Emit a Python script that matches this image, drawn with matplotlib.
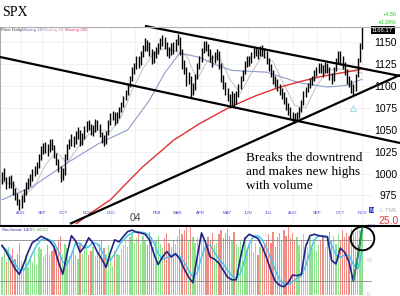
import matplotlib
matplotlib.use("Agg")
import matplotlib.pyplot as plt
from matplotlib.lines import Line2D

plt.rcParams['font.family'] = ['Liberation Sans', 'DejaVu Sans']

W, H = 400, 296

# SPX, 2-day bars, mid July 2003 .. 5 Nov 2004
close = [995, 1000, 985, 992, 990, 980, 975, 968, 962, 970,
         978, 985, 990, 994, 1000, 1004, 1008, 1018, 1025, 1030,
         1030, 1026, 1035, 1032, 1022, 1015, 1008, 995, 1000, 1018,
         1030, 1036, 1040, 1035, 1045, 1048, 1035, 1042, 1050, 1056,
         1055, 1048, 1050, 1058, 1055, 1046, 1040, 1036, 1045, 1058,
         1065, 1068, 1060, 1066, 1072, 1078, 1085, 1092, 1100, 1108,
         1118, 1122, 1130, 1126, 1135, 1142, 1150, 1146, 1140, 1130,
         1135, 1140, 1145, 1150, 1152, 1148, 1140, 1138, 1145, 1142,
         1150, 1155, 1140, 1125, 1120, 1105, 1110, 1092, 1098, 1110,
         1122, 1130, 1140, 1148, 1145, 1140, 1132, 1128, 1135, 1138,
         1125, 1110, 1102, 1095, 1088, 1080, 1090, 1082, 1090, 1098,
         1108, 1115, 1125, 1130, 1128, 1135, 1140, 1140, 1136, 1142,
         1140, 1138, 1130, 1122, 1115, 1108, 1104, 1100, 1095, 1090,
         1085, 1078, 1072, 1068, 1064, 1063, 1066, 1072, 1080, 1090,
         1095, 1100, 1105, 1108, 1115, 1118, 1122, 1120, 1116, 1124,
         1120, 1112, 1108, 1118, 1128, 1135, 1132, 1125, 1118, 1108,
         1104, 1098, 1094, 1110, 1128, 1145, 1166.17]
high = [1002, 1006, 996, 997, 998, 991, 984, 978, 971, 975,
        982, 990, 995, 999, 1005, 1009, 1013, 1022, 1031, 1035,
        1036, 1034, 1040, 1039, 1033, 1024, 1017, 1009, 1006, 1022,
        1034, 1040, 1045, 1043, 1049, 1053, 1050, 1046, 1054, 1060,
        1061, 1057, 1055, 1062, 1061, 1057, 1048, 1044, 1049, 1061,
        1069, 1072, 1070, 1070, 1076, 1082, 1089, 1096, 1104, 1112,
        1122, 1127, 1134, 1135, 1140, 1147, 1155, 1153, 1150, 1142,
        1140, 1145, 1149, 1155, 1158, 1156, 1151, 1145, 1149, 1150,
        1154, 1160, 1156, 1142, 1130, 1122, 1116, 1112, 1104, 1114,
        1126, 1134, 1144, 1152, 1152, 1148, 1143, 1136, 1139, 1143,
        1140, 1127, 1113, 1105, 1098, 1091, 1094, 1092, 1094, 1102,
        1112, 1119, 1129, 1134, 1135, 1139, 1144, 1145, 1143, 1146,
        1147, 1144, 1140, 1132, 1125, 1118, 1112, 1108, 1103, 1098,
        1093, 1088, 1081, 1076, 1071, 1069, 1071, 1076, 1084, 1094,
        1099, 1104, 1109, 1112, 1119, 1122, 1126, 1127, 1124, 1128,
        1127, 1122, 1115, 1122, 1132, 1140, 1140, 1135, 1128, 1120,
        1112, 1107, 1102, 1114, 1132, 1149, 1169]
low = [988, 992, 982, 984, 983, 976, 970, 964, 958, 961,
       968, 976, 982, 986, 991, 997, 1000, 1006, 1016, 1022,
       1024, 1020, 1025, 1027, 1018, 1010, 1002, 990, 993, 998,
       1016, 1028, 1032, 1030, 1034, 1040, 1031, 1033, 1040, 1048,
       1050, 1044, 1043, 1048, 1050, 1042, 1035, 1032, 1034, 1044,
       1056, 1061, 1056, 1058, 1064, 1070, 1076, 1084, 1090, 1099,
       1106, 1114, 1120, 1121, 1124, 1133, 1140, 1140, 1135, 1125,
       1127, 1132, 1137, 1142, 1146, 1143, 1135, 1132, 1136, 1137,
       1140, 1147, 1136, 1120, 1114, 1100, 1102, 1088, 1090, 1096,
       1108, 1120, 1128, 1138, 1140, 1135, 1128, 1122, 1126, 1130,
       1120, 1105, 1097, 1090, 1083, 1075, 1078, 1077, 1080, 1088,
       1097, 1106, 1114, 1122, 1123, 1126, 1132, 1134, 1131, 1134,
       1135, 1132, 1125, 1117, 1110, 1103, 1099, 1095, 1090, 1085,
       1080, 1073, 1067, 1062, 1059, 1058, 1060, 1064, 1070, 1079,
       1088, 1093, 1098, 1101, 1106, 1112, 1115, 1115, 1111, 1115,
       1115, 1107, 1102, 1106, 1117, 1127, 1127, 1120, 1113, 1103,
       1099, 1092, 1090, 1094, 1110, 1128, 1143]
volume = [55, 62, 48, 70, 58, 66, 52, 60, 75, 50,
          45, 58, 40, 52, 48, 62, 44, 70, 66, 55,
          60, 72, 58, 64, 70, 66, 78, 85, 60, 74,
          68, 56, 62, 70, 58, 52, 76, 60, 66, 72,
          58, 64, 70, 56, 62, 74, 80, 68, 60, 72,
          56, 42, 64, 60, 58, 66, 72, 78, 70, 84,
          88, 76, 82, 90, 74, 86, 80, 72, 92, 84,
          70, 78, 86, 74, 68, 82, 90, 76, 70, 80,
          74, 86, 96, 88, 94, 98, 80, 100, 84, 76,
          82, 74, 88, 80, 70, 84, 78, 90, 72, 76,
          88, 94, 82, 90, 96, 86, 78, 92, 74, 70,
          78, 72, 84, 66, 74, 80, 62, 76, 58, 70,
          68, 74, 80, 88, 76, 92, 70, 84, 90, 78,
          94, 86, 98, 82, 90, 78, 84, 72, 80, 88,
          76, 70, 82, 68, 78, 64, 72, 80, 86, 70,
          84, 92, 78, 86, 74, 88, 80, 94, 84, 90,
          86, 96, 88, 92, 98, 94, 100]

# moving averages, read at a few bars
ma_fast_x = [0, 5, 10, 15, 20, 25, 30, 35, 40, 45, 50, 55, 60, 65, 70, 75, 80,
             85, 90, 95, 100, 105, 110, 115, 120, 125, 130, 135, 140, 145, 150,
             155, 160, 166]
ma_fast = [990, 988, 975, 985, 1010, 1025, 1012, 1030, 1045, 1050, 1048, 1065,
           1095, 1120, 1138, 1143, 1140, 1135, 1108, 1130, 1135, 1108, 1092,
           1115, 1135, 1128, 1102, 1078, 1075, 1100, 1118, 1120, 1118, 1115]
ma_50_x = [0, 14, 30, 45, 58, 68, 75, 82, 91, 98, 106, 122, 137, 150, 159, 166]
ma_50 = [970, 985, 1012, 1035, 1050, 1084, 1115, 1138, 1133, 1125, 1118, 1116,
         1104, 1099, 1101, 1108]
ma_200_x = [27, 34, 41, 50, 59, 65, 73, 79, 91, 105, 117, 127, 137, 147, 156, 165]
ma_200 = [930, 942, 955, 970, 993, 1008, 1025, 1038, 1057, 1076, 1089, 1098,
          1105, 1111, 1115, 1119]

# stochastic 14/3, every second bar
stoch_k = [72, 62, 50, 38, 30, 45, 62, 76, 80, 85,
           82, 78, 70, 48, 30, 60, 86, 78, 62, 70,
           83, 75, 62, 52, 40, 62, 80, 77, 85, 92,
           94, 91, 90, 88, 80, 60, 44, 55, 63, 55,
           60, 52, 38, 26, 18, 55, 90, 75, 55, 52,
           46, 36, 26, 22, 22, 55, 82, 88, 85, 82,
           70, 54, 35, 20, 14, 12, 18, 29, 28, 30,
           70, 86, 88, 86, 85, 84, 50, 45, 68, 62,
           48, 20, 55, 95]
stoch_d = [70, 66, 56, 45, 36, 36, 45, 60, 72, 80,
           82, 80, 76, 64, 48, 44, 58, 76, 75, 68,
           70, 76, 74, 64, 52, 50, 60, 72, 80, 86,
           90, 92, 91, 90, 86, 76, 60, 52, 54, 58,
           58, 56, 48, 36, 26, 32, 55, 72, 72, 62,
           52, 45, 36, 28, 24, 32, 52, 74, 85, 86,
           80, 68, 52, 36, 22, 16, 15, 19, 24, 28,
           42, 62, 80, 86, 86, 85, 72, 58, 54, 58,
           58, 44, 38, 62]

months = ['AUG', 'SEP', 'OCT', 'NOV', 'DEC', '04', 'FEB', 'MAR', 'APR', 'MAY',
          'JUN', 'JUL', 'AUG', 'SEP', 'OCT', 'NOV']
month_x = [8.8, 18.4, 28.1, 39.2, 50.3, 61.3, 71.5, 81.1, 91.7, 103.7,
           113.4, 123.1, 134.2, 145.2, 155.8, 166]
price_ticks = [975, 1000, 1025, 1050, 1075, 1100, 1125, 1150]

# hand drawn trend lines (bar, price)
trend_lines = [((65.9, 1168.9), (183.5, 1111.7)),
               ((-0.92, 1133.4), (183.5, 1035.0)),
               ((31.35, 942.5), (183.5, 1112.8))]

fig = plt.figure(figsize=(W / 100, H / 100), dpi=100)
ax = fig.add_axes([0, (H - 224) / H, 372 / W, (224 - 27) / H])
ax2 = fig.add_axes([0, 1 / H, 372 / W, 69 / H])

bars = list(range(len(close)))
xlim = (-0.92, 170.6)

# price panel
ax.set_xlim(*xlim)
ax.set_ylim(942.3, 1167.7)
ax.set_xticks(month_x)
ax.set_yticks(price_ticks)
ax.grid(True, color='#ececec', lw=0.5)
ax.tick_params(axis='x', length=0, labelbottom=False)
ax.yaxis.tick_right()
ax.tick_params(axis='y', length=0, pad=18, labelsize=7.5)
for lab in ax.get_yticklabels():
    lab.set_ha('right')
for s in ['right', 'bottom', 'top']:
    ax.spines[s].set_visible(False)
ax.spines['left'].set_color('#aaaaaa')

ax.plot(ma_fast_x, ma_fast, color='#cdbcc4', lw=0.7, zorder=2)
ax.plot(ma_50_x, ma_50, color='#8c9ccc', lw=0.8, zorder=2)
ax.plot(ma_200_x, ma_200, color='#e23030', lw=1.0, zorder=2)
ax.vlines(bars, low, high, color='black', lw=1.0, zorder=3)

for (x0, y0), (x1, y1) in trend_lines:
    ax.plot([x0, x1], [y0, y1], color='black', lw=1.6, zorder=4,
            solid_capstyle='butt', clip_on=False)

ax.plot([162], [1075], marker='^', ms=5, mfc='none', mec='#a8e0e8', mew=0.8)

for m, mx in zip(months, month_x):
    if m == '04':
        ax.text(mx, 0.03, m, transform=ax.get_xaxis_transform(), ha='center',
                va='center', fontsize=7.5, color='#444444')
    else:
        ax.text(mx, 0.056, m, transform=ax.get_xaxis_transform(), ha='center',
                va='center', fontsize=3.2, color='#4a4ad0')

ax.text(1.0, close[-1] - 2, f'{close[-1]:.2f}', transform=ax.get_yaxis_transform(),
        ha='left', va='center', fontsize=4.3, color='white',
        bbox=dict(boxstyle='square,pad=0.25', fc='black', ec='none'))

ax.text(246 / 372, 1 - (152 - 27) / 197,
        'Breaks the downtrend\nand makes new highs\nwith volume',
        transform=ax.transAxes, ha='left', va='top', fontsize=9.5,
        family=['Liberation Serif', 'DejaVu Serif'], linespacing=1.2, zorder=5)

# stochastic panel with volume behind it
axv = ax2.twinx()
vol_colors = ['#8fe38f' if i == 0 or close[i] >= close[i - 1] else '#f08c84'
              for i in bars]
axv.bar(bars, volume, width=0.6, color=vol_colors, lw=0)
axv.set_ylim(0, 100)
axv.set_yticks([])
ax2.set_zorder(axv.get_zorder() + 1)
ax2.patch.set_visible(False)

stoch_x = list(range(0, len(close), 2))
ax2.set_xlim(*xlim)
ax2.set_ylim(0, 100)
ax2.axhline(80, color='#8a8a8a', lw=0.6)
ax2.axhline(20, color='#8a8a8a', lw=0.6)
ax2.plot(stoch_x, stoch_d, color='#45c8e8', lw=1.1)
ax2.plot(stoch_x, stoch_k, color='#22228a', lw=1.2)
ax2.plot(stoch_x[-3:], stoch_k[-3:], color='#1fa04a', lw=1.2)
ax2.plot([stoch_x[-1]], [83], 'o', ms=17, mfc='none', mec='black', mew=1.4,
         clip_on=False)
for v, c in [(100, '#9a8ad0'), (50, '#c8c890'), (0, '#c8c890')]:
    ax2.text(0.985, v, str(v), transform=ax2.get_yaxis_transform(), ha='left',
             va='center', fontsize=4, color=c)
for a in (ax2, axv):
    a.set_xticks([])
    for s in a.spines.values():
        s.set_visible(False)
ax2.set_yticks([])

# header, legends, separators
fig.text(2 / W, 1 - 13 / H, 'SPX', fontsize=10, va='center',
         family=['Liberation Serif', 'DejaVu Serif'])
fig.add_artist(Line2D([0, 1], [1 - 26.5 / H] * 2, color='#b0b0b0', lw=0.8))
fig.add_artist(Line2D([0, 1], [1 - 226 / H] * 2, color='black', lw=1.5))
for txt, px, c in [('Price Daily', 1, '#333333'), ('Moving 10', 22, '#6070b0'),
                   ('Moving 20', 43, '#c090a0'), ('Moving 200', 65, '#e04060')]:
    fig.text(px / W, 1 - 29.5 / H, txt, fontsize=3.2, color=c, va='center')
fig.text(2 / W, 1 - 230 / H, 'Stochastic 14/3', fontsize=3.2, color='#3030a0',
         va='center')
fig.text(32 / W, 1 - 230 / H, '% 80.00', fontsize=3.2, color='#40b040',
         va='center')
fig.text(397 / W, 1 - 15 / H, '+4.50', fontsize=4, color='#22cc22', ha='right',
         va='center')
fig.text(397 / W, 1 - 22 / H, '+0.39%', fontsize=4, color='#22cc22', ha='right',
         va='center')
fig.text(397 / W, 1 - 210 / H, 'L TML', fontsize=4.5, color='#b0b0b0',
         ha='right', va='center')
fig.text(371.5 / W, 1 - 210 / H, 'N', fontsize=4.5, color='white', va='center',
         ha='center', bbox=dict(boxstyle='square,pad=0.1', fc='#2a40d0', ec='none'))
fig.text(399 / W, 1 - 221 / H, '25.0', fontsize=7.5, color='#e03a3a', ha='right',
         va='center')

fig.savefig('out.png', dpi=100)
